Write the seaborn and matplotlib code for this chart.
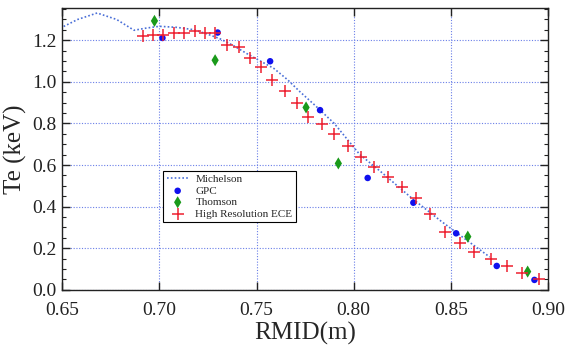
import numpy as np
import pandas as pd
import seaborn as sns
from matplotlib import pyplot as plt
from matplotlib.ticker import MultipleLocator

# Michelson profile (dotted line)
mich_r = [0.649, 0.658, 0.668, 0.678, 0.687, 0.693, 0.700, 0.709, 0.7175, 0.724, 0.731,
          0.738, 0.745, 0.752, 0.759, 0.766, 0.7724, 0.780, 0.790, 0.803, 0.815, 0.830,
          0.845, 0.858, 0.870]
mich_te = [1.258, 1.300, 1.331, 1.300, 1.248, 1.258, 1.267, 1.262, 1.251, 1.232, 1.208,
           1.175, 1.136, 1.100, 1.064, 1.010, 0.952, 0.888, 0.800, 0.652, 0.560, 0.440,
           0.330, 0.240, 0.158]

# GPC
gpc_r = [0.7016, 0.730, 0.757, 0.7827, 0.8072, 0.8307, 0.8527, 0.8736, 0.893]
gpc_te = [1.211, 1.237, 1.099, 0.864, 0.538, 0.419, 0.272, 0.115, 0.048]

# Thomson
thom_r = [0.6975, 0.7287, 0.7755, 0.7921, 0.8587, 0.8895]
thom_te = [1.293, 1.104, 0.877, 0.608, 0.256, 0.088]

# High Resolution ECE
ece_r = [0.6918, 0.697, 0.7021, 0.7076, 0.7128, 0.7183, 0.7236, 0.7287, 0.735, 0.741,
         0.7467, 0.7524, 0.7582, 0.7647, 0.771, 0.7767, 0.7836, 0.790, 0.797, 0.8036,
         0.8107, 0.8175, 0.8247, 0.8321, 0.8393, 0.847, 0.8547, 0.8621, 0.8705, 0.8787,
         0.8868, 0.8954]
ece_te = [1.221, 1.224, 1.227, 1.237, 1.237, 1.243, 1.235, 1.237, 1.179, 1.168,
          1.115, 1.072, 1.008, 0.957, 0.896, 0.829, 0.797, 0.747, 0.691, 0.637,
          0.589, 0.544, 0.493, 0.444, 0.363, 0.280, 0.224, 0.184, 0.149, 0.115,
          0.083, 0.051]

sns.set_theme(style="ticks")
plt.rcParams['font.family'] = ['Liberation Serif', 'DejaVu Serif']
plt.rcParams['mathtext.fontset'] = 'stix'

fig = plt.figure(figsize=(5.65, 3.48), dpi=100)
ax = fig.add_axes([0.110, 0.167, 0.860, 0.810])

sns.lineplot(x=mich_r, y=mich_te, ax=ax, color="#4a6fd8", linestyle=(0, (1, 1.3)),
             linewidth=1.2, label="Michelson", sort=False)
sns.scatterplot(x=gpc_r, y=gpc_te, ax=ax, color="#1010ee", marker="o", s=22,
                edgecolor="none", label="GPC", zorder=4)
sns.scatterplot(x=thom_r, y=thom_te, ax=ax, color="#1a9a1a", marker="d", s=38,
                edgecolor="none", label="Thomson", zorder=4)
sns.scatterplot(x=ece_r, y=ece_te, ax=ax, color="#ee2030", marker="+", s=70,
                linewidth=1.1, label="High Resolution ECE", zorder=5)

ax.set_xlim(0.65, 0.90)
ax.set_ylim(0.0, 1.355)
ax.xaxis.set_major_locator(MultipleLocator(0.05))
ax.yaxis.set_major_locator(MultipleLocator(0.2))
ax.yaxis.set_minor_locator(MultipleLocator(0.05))
ax.xaxis.set_major_formatter(plt.FormatStrFormatter("%.2f"))
ax.yaxis.set_major_formatter(plt.FormatStrFormatter("%.1f"))
ax.tick_params(which="both", direction="in", top=True, right=True, labelsize=14,
               colors="#222222")
ax.tick_params(which="major", length=6, width=1.0)
ax.tick_params(which="minor", length=3, width=0.8)
ax.tick_params(axis="x", which="major", pad=9)
ax.tick_params(axis="y", which="major", pad=4)
for s in ax.spines.values():
    s.set_color("#222222")
    s.set_linewidth(1.0)

ax.grid(True, which="major", color="#6a7fe8", linestyle=(0, (1, 1.5)), linewidth=0.8)

ax.set_xlabel("RMID(m)", fontsize=18, labelpad=2)
ax.set_ylabel("Te (keV)", fontsize=18)

leg = ax.legend(loc="lower left", bbox_to_anchor=(0.208, 0.241), borderaxespad=0,
                fontsize=8, frameon=True, fancybox=False, framealpha=1,
                edgecolor="black", borderpad=0.3, labelspacing=0.15,
                handlelength=2.0, handletextpad=0.6)
leg.get_frame().set_linewidth(0.8)

plt.savefig("out.png", dpi=100)
